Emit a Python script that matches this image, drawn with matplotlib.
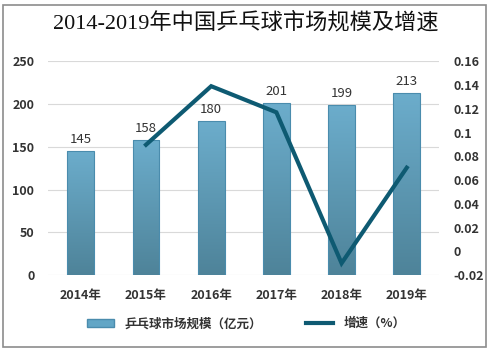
import matplotlib.pyplot as plt
import numpy as np
from matplotlib.colors import LinearSegmentedColormap
from matplotlib.patches import Rectangle

plt.rcParams['font.family'] = ['Noto Sans CJK SC', 'DejaVu Sans']

years = ["2014年", "2015年", "2016年", "2017年", "2018年", "2019年"]
market_size = [145, 158, 180, 201, 199, 213]
growth_years = [1, 2, 3, 4, 5]
growth_rate = [0.0897, 0.139, 0.117, -0.01, 0.0704]

bar_color = "#62a6c6"
line_color = "#0e5a72"
text_color = "#333333"
grad = LinearSegmentedColormap.from_list("bar", ["#4e8399", "#6cadcc"])

fig = plt.figure(figsize=(4.92, 3.5), dpi=100)
fig.patches.append(Rectangle((0.006, 0.01), 0.982, 0.975, transform=fig.transFigure,
                             fill=False, edgecolor="#8c8c8c", linewidth=1.2))

ax = fig.add_axes([0.098, 0.214, 0.795, 0.611])
x = np.arange(len(years))
bars = ax.bar(x, market_size, width=0.41, color="none", edgecolor="#4a8cad",
              linewidth=0.8, zorder=3)
# 柱子渐变填充
ramp = np.linspace(0, 1, 256).reshape(-1, 1)
for b in bars:
    x0, y0 = b.get_x(), b.get_y()
    im = ax.imshow(ramp, cmap=grad, origin="lower", aspect="auto", zorder=2,
                   extent=[x0, x0 + b.get_width(), y0, y0 + b.get_height()])
    im.set_clip_path(b)
for xi, v in zip(x, market_size):
    ax.text(xi, v + 6, str(v), ha="center", va="bottom", fontsize=9.5,
            color=text_color)

ax.set_ylim(0, 250)
ax.set_yticks(range(0, 251, 50))
ax.set_xlim(-0.5, len(years) - 0.5)
ax.set_xticks(x)
ax.set_xticklabels(years, fontsize=9, fontweight="bold", color=text_color)
ax.tick_params(axis="y", length=0, labelsize=9, labelcolor=text_color, pad=10)
ax.tick_params(axis="x", length=0, pad=10)
for lbl in ax.get_yticklabels():
    lbl.set_fontweight("bold")
ax.grid(axis="y", color="#d9d9d9", linewidth=0.8, zorder=0)
ax.set_axisbelow(True)
for s in ax.spines.values():
    s.set_visible(False)

ax2 = ax.twinx()
ax2.plot(growth_years, growth_rate, color=line_color, linewidth=3,
         solid_joinstyle="miter", zorder=3)
ax2.set_ylim(-0.02, 0.16)
ax2.set_yticks([-0.02, 0, 0.02, 0.04, 0.06, 0.08, 0.1, 0.12, 0.14, 0.16])
ax2.set_yticklabels(["-0.02", "0", "0.02", "0.04", "0.06", "0.08", "0.1",
                     "0.12", "0.14", "0.16"])
ax2.tick_params(axis="y", length=0, labelsize=9, labelcolor=text_color, pad=10)
for lbl in ax2.get_yticklabels():
    lbl.set_fontweight("bold")
for s in ax2.spines.values():
    s.set_visible(False)

fig.text(0.5, 0.935, "2014-2019年中国乒乓球市场规模及增速", ha="center", va="center",
         fontsize=16, color="#111111",
         family=["Liberation Serif", "Noto Sans CJK SC"])

handles = [Rectangle((0, 0), 1, 1, facecolor=bar_color, edgecolor="#4a8cad"),
           plt.Line2D([0], [0], color=line_color, linewidth=3)]
fig.legend(handles, ["乒乓球市场规模（亿元）", "增速（%）"], loc="center",
           bbox_to_anchor=(0.5, 0.075), ncol=2, frameon=False,
           prop={"size": 9, "weight": "bold"}, columnspacing=3.5,
           handlelength=2.2, handleheight=0.6, labelcolor=text_color)

fig.savefig("out.png", dpi=100)
